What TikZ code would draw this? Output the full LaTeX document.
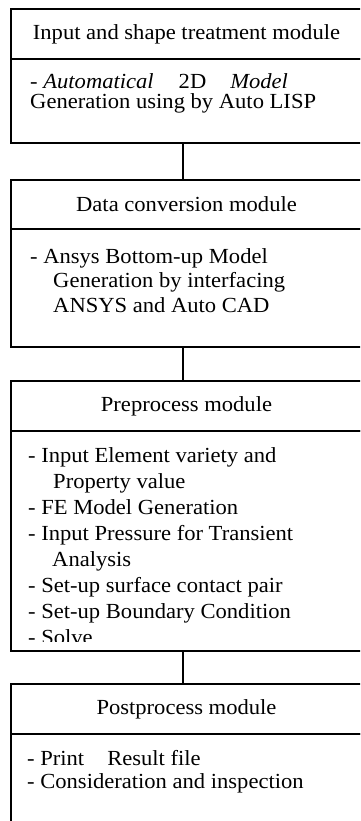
\documentclass[tikz,border=0pt]{standalone}
\usepackage{fontspec}
\setmainfont{Liberation Serif}[FakeStretch=1.05]
\usetikzlibrary{positioning}

\begin{document}
\begin{tikzpicture}[x=1pt, y=-1pt,
  modbox/.style={draw, line width=1.6pt, minimum width=351pt, inner sep=0pt, outer sep=0pt},
  titlebox/.style={modbox, anchor=north west, minimum height=50pt, font=\fontsize{21.5}{25}\selectfont},
  bodytext/.style={anchor=base west, align=left, inner sep=0pt, font=\fontsize{21.5}{#1}\selectfont},
  link/.style={line width=1.6pt}]
\clip (0,0) rectangle (360,821);

% Input and shape treatment module
\node[titlebox] (t1) at (11,9) {Input and shape treatment module};
\node[modbox, minimum height=84pt, below=0pt of t1] (b1) {};
\node[bodytext=20pt] (x1) at (30,109) {- \textit{Automatical}\hspace{25pt}2D\hspace{24pt}\textit{Model}\\Generation using by Auto LISP};

% Data conversion module
\node[titlebox, minimum height=49pt] (t2) at (11,180) {Data conversion module};
\node[modbox, minimum height=118pt, below=0pt of t2] (b2) {};
\node[bodytext=24.5pt] (x2) at (30,312) {- Ansys Bottom-up Model\\\hspace*{23pt}Generation by interfacing\\\hspace*{23pt}ANSYS and Auto CAD};

% Preprocess module
\node[titlebox] (t3) at (11,381) {Preprocess module};
\node[modbox, minimum height=220pt, below=0pt of t3] (b3) {};
\begin{scope}
\clip (11,431) rectangle (362,641);
\node[bodytext=25.86pt] (x3) at (28,644) {- Input Element variety and\\\hspace*{25pt}Property value\\- FE Model Generation\\- Input Pressure for Transient\\\hspace*{24pt}Analysis\\- Set-up surface contact pair\\- Set-up Boundary Condition\\- Solve};
\end{scope}

% Postprocess module
\node[titlebox] (t4) at (11,684) {Postprocess module};
\node[modbox, minimum height=137pt, below=0pt of t4] (b4) {};
\node[bodytext=23pt] (x4) at (27,788) {- Print\hspace{23pt}Result file\\- Consideration and inspection};

% Links between modules
\draw[link] ([xshift=-3.5pt]b1.south) -- ([xshift=-3.5pt]t2.north);
\draw[link] ([xshift=-3.5pt]b2.south) -- ([xshift=-3.5pt]t3.north);
\draw[link] ([xshift=-3.5pt]b3.south) -- ([xshift=-3.5pt]t4.north);
\end{tikzpicture}
\end{document}
